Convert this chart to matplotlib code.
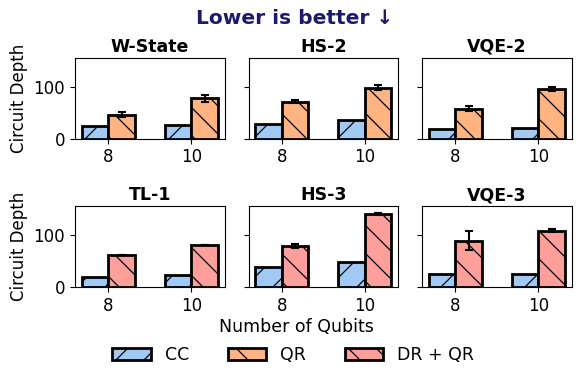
import matplotlib
matplotlib.use("Agg")
import matplotlib.pyplot as plt
from matplotlib.patches import Patch
import numpy as np

qubits = ["8", "10"]
titles = ["W-State", "HS-2", "VQE-2", "TL-1", "HS-3", "VQE-3"]
cc_vals = [[25, 26], [28, 36], [19, 20], [19, 22], [38, 47], [25, 25]]
opt_vals = [[46, 77], [71, 98], [57, 96], [62, 81], [79, 141], [89, 108]]
opt_err = [[5, 7], [3, 5], [5, 4], [0, 0], [4, 2], [19, 3]]
opt_kind = ["QR", "QR", "QR", "DR + QR", "DR + QR", "DR + QR"]

colors = {"CC": "#a1c9f4", "QR": "#ffb482", "DR + QR": "#ff9f9b"}
hatches = {"CC": "/", "QR": "\\", "DR + QR": "\\"}

DPI = 84
s = 100.0 / DPI  # keep pixel sizes of a 100-dpi layout, hatch spacing ~28 px


def P(v):
    return v * s


plt.rcParams.update({
    "hatch.linewidth": P(0.9),
    "font.size": P(12),
    "axes.linewidth": P(0.8),
    "xtick.major.size": P(3.5), "ytick.major.size": P(3.5),
    "xtick.major.width": P(0.8), "ytick.major.width": P(0.8),
    "xtick.major.pad": P(3.5), "ytick.major.pad": P(3.5),
    "axes.labelpad": P(4.0),
})
fig, axes = plt.subplots(2, 3, figsize=(581 / DPI, 381 / DPI), dpi=DPI)
fig.subplots_adjust(left=0.129, right=0.984, top=0.848, bottom=0.247,
                    wspace=0.16, hspace=0.84)

w = 0.32
x = np.arange(len(qubits))
for i, ax in enumerate(axes.flat):
    ax.bar(x - w / 2, cc_vals[i], w, color=colors["CC"], edgecolor="black",
           linewidth=P(2), hatch=hatches["CC"])
    k = opt_kind[i]
    ax.bar(x + w / 2, opt_vals[i], w, color=colors[k], edgecolor="black",
           linewidth=P(2), hatch=hatches[k])
    ax.errorbar(x + w / 2, opt_vals[i], yerr=opt_err[i], fmt="none",
                ecolor="black", elinewidth=P(1.5), capsize=P(3), capthick=P(1.5))
    ax.set_xticks(x)
    ax.set_xticklabels(qubits)
    ax.set_ylim(0, 155)
    ax.set_yticks([0, 100])
    ax.tick_params(labelsize=P(12))
    ax.set_title(titles[i], fontsize=P(12.5), fontweight="bold", pad=P(4.5))
    if i % 3 == 0:
        ax.set_ylabel("Circuit Depth", fontsize=P(12))
    else:
        ax.set_yticklabels([])

fig.suptitle("Lower is better ↓", fontsize=P(14.5), fontweight="bold",
             color="#1a1a6e", x=0.507, y=0.977)
fig.text(0.51, 0.142, "Number of Qubits", ha="center", va="center",
         fontsize=P(12.5))

handles = [Patch(facecolor=colors[k], edgecolor="black", linewidth=P(2),
                 hatch=hatches[k], label=k) for k in ["CC", "QR", "DR + QR"]]
fig.legend(handles=handles, loc="center", bbox_to_anchor=(0.505, 0.068),
           ncol=3, frameon=False, fontsize=P(12.5), columnspacing=2.2,
           handletextpad=0.84, handlelength=2.2)

fig.savefig("out.png", dpi=DPI)
